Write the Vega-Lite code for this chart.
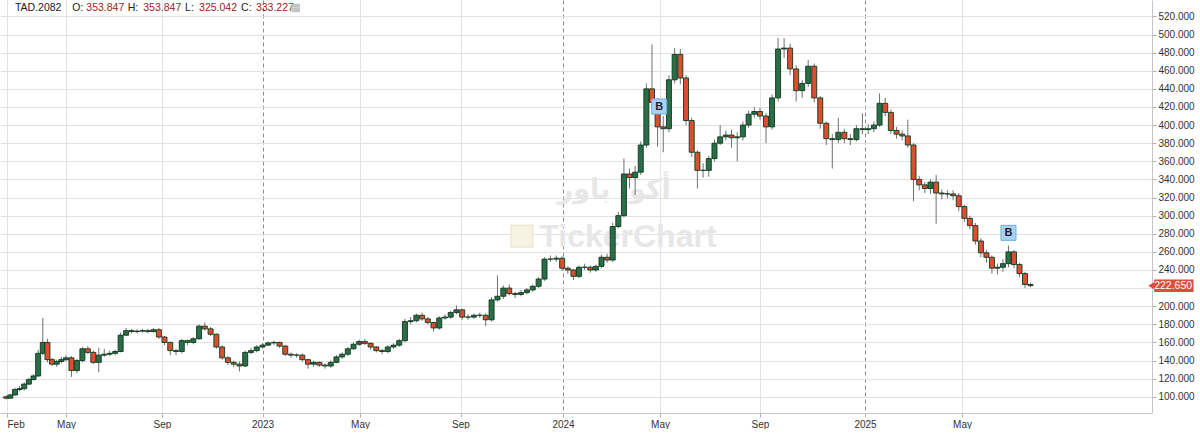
{
  "$schema": "https://vega.github.io/schema/vega-lite/v6.json",
  "width": 1152,
  "height": 413,
  "padding": 0,
  "autosize": {"type": "pad"},
  "background": "white",
  "config": {
    "view": {"stroke": null},
    "font": "Liberation Sans",
    "axis": {"labelFont": "Liberation Sans", "labelFontSize": 10, "labelColor": "#333333", "domainColor": "#c4c4c4", "tickColor": "#b0b0b0", "tickSize": 4, "gridColor": "#e2e2e2", "gridWidth": 1, "labelOverlap": false}
  },
  "datasets": {
    "ohlc": [
      {"d":"2022-01-30","o":100,"h":101.5,"l":97,"c":98.5},
      {"d":"2022-02-06","o":98.5,"h":103.5,"l":97.5,"c":102},
      {"d":"2022-02-13","o":102,"h":110,"l":101,"c":108},
      {"d":"2022-02-20","o":108,"h":112,"l":106,"c":109},
      {"d":"2022-02-27","o":109,"h":116,"l":107,"c":114},
      {"d":"2022-03-06","o":114,"h":121,"l":113,"c":119},
      {"d":"2022-03-13","o":119,"h":125,"l":118,"c":123},
      {"d":"2022-03-20","o":123,"h":152,"l":122,"c":148},
      {"d":"2022-03-27","o":148,"h":187,"l":146,"c":160},
      {"d":"2022-04-03","o":160,"h":164,"l":138,"c":141},
      {"d":"2022-04-10","o":141,"h":143,"l":134,"c":136},
      {"d":"2022-04-17","o":136,"h":141,"l":133,"c":139},
      {"d":"2022-04-24","o":139,"h":144,"l":137,"c":141},
      {"d":"2022-05-01","o":141,"h":146,"l":139,"c":143},
      {"d":"2022-05-08","o":143,"h":145,"l":122,"c":129},
      {"d":"2022-05-15","o":129,"h":142,"l":126,"c":140},
      {"d":"2022-05-22","o":140,"h":155,"l":138,"c":153},
      {"d":"2022-05-29","o":153,"h":156,"l":147,"c":149},
      {"d":"2022-06-05","o":149,"h":151,"l":136,"c":138},
      {"d":"2022-06-12","o":138,"h":154,"l":127,"c":146},
      {"d":"2022-06-19","o":146,"h":153,"l":144,"c":147},
      {"d":"2022-06-26","o":147,"h":151,"l":145,"c":148},
      {"d":"2022-07-03","o":148,"h":152,"l":146,"c":150},
      {"d":"2022-07-10","o":150,"h":171,"l":149,"c":168},
      {"d":"2022-07-17","o":168,"h":176,"l":167,"c":173},
      {"d":"2022-07-24","o":173,"h":175,"l":170,"c":172},
      {"d":"2022-07-31","o":172,"h":174.5,"l":170,"c":172.5},
      {"d":"2022-08-07","o":172.5,"h":175,"l":171,"c":173},
      {"d":"2022-08-14","o":173,"h":175,"l":170,"c":172},
      {"d":"2022-08-21","o":172,"h":176,"l":171,"c":174},
      {"d":"2022-08-28","o":174,"h":176,"l":164,"c":166},
      {"d":"2022-09-04","o":166,"h":167,"l":157,"c":160},
      {"d":"2022-09-11","o":160,"h":161,"l":146,"c":151},
      {"d":"2022-09-18","o":151,"h":153,"l":146,"c":150},
      {"d":"2022-09-25","o":150,"h":164,"l":148,"c":162},
      {"d":"2022-10-02","o":162,"h":163,"l":157,"c":160},
      {"d":"2022-10-09","o":160,"h":166,"l":158,"c":164},
      {"d":"2022-10-16","o":164,"h":180,"l":163,"c":178},
      {"d":"2022-10-23","o":178,"h":182,"l":173,"c":175},
      {"d":"2022-10-30","o":175,"h":177,"l":167,"c":169},
      {"d":"2022-11-06","o":169,"h":170,"l":153,"c":155},
      {"d":"2022-11-13","o":155,"h":157,"l":141,"c":143},
      {"d":"2022-11-20","o":143,"h":145,"l":135,"c":138},
      {"d":"2022-11-27","o":138,"h":140,"l":133,"c":136},
      {"d":"2022-12-04","o":136,"h":139,"l":128,"c":134},
      {"d":"2022-12-11","o":134,"h":151,"l":133,"c":149},
      {"d":"2022-12-18","o":149,"h":154,"l":147,"c":151},
      {"d":"2022-12-25","o":151,"h":157,"l":149,"c":155},
      {"d":"2023-01-01","o":155,"h":159,"l":153,"c":157},
      {"d":"2023-01-08","o":157,"h":161,"l":156,"c":159.5},
      {"d":"2023-01-15","o":159.5,"h":162,"l":157,"c":160},
      {"d":"2023-01-22","o":160,"h":161,"l":154,"c":156},
      {"d":"2023-01-29","o":156,"h":157,"l":145,"c":147},
      {"d":"2023-02-05","o":147,"h":149,"l":143,"c":146},
      {"d":"2023-02-12","o":146,"h":148,"l":143,"c":146},
      {"d":"2023-02-19","o":146,"h":148,"l":139,"c":141},
      {"d":"2023-02-26","o":141,"h":142,"l":131,"c":136},
      {"d":"2023-03-05","o":136,"h":140,"l":133,"c":138},
      {"d":"2023-03-12","o":138,"h":139,"l":133,"c":135},
      {"d":"2023-03-19","o":135,"h":137,"l":131,"c":134},
      {"d":"2023-03-26","o":134,"h":140,"l":132,"c":138},
      {"d":"2023-04-02","o":138,"h":146,"l":137,"c":144},
      {"d":"2023-04-09","o":144,"h":149,"l":142,"c":147},
      {"d":"2023-04-16","o":147,"h":155,"l":145,"c":153},
      {"d":"2023-04-23","o":153,"h":160,"l":152,"c":158},
      {"d":"2023-04-30","o":158,"h":163,"l":156,"c":161},
      {"d":"2023-05-07","o":161,"h":164,"l":157,"c":159},
      {"d":"2023-05-14","o":159,"h":160,"l":152,"c":155},
      {"d":"2023-05-21","o":155,"h":156,"l":149,"c":151},
      {"d":"2023-05-28","o":151,"h":153,"l":147,"c":150},
      {"d":"2023-06-04","o":150,"h":157,"l":148,"c":155},
      {"d":"2023-06-11","o":155,"h":159,"l":153,"c":157},
      {"d":"2023-06-18","o":157,"h":164,"l":155,"c":162},
      {"d":"2023-06-25","o":162,"h":186,"l":160,"c":183},
      {"d":"2023-07-02","o":183,"h":188,"l":180,"c":184},
      {"d":"2023-07-09","o":184,"h":192,"l":182,"c":190},
      {"d":"2023-07-16","o":190,"h":193,"l":184,"c":186},
      {"d":"2023-07-23","o":186,"h":188,"l":180,"c":182},
      {"d":"2023-07-30","o":182,"h":183,"l":172,"c":176},
      {"d":"2023-08-06","o":176,"h":189,"l":174,"c":187},
      {"d":"2023-08-13","o":187,"h":191,"l":185,"c":188},
      {"d":"2023-08-20","o":188,"h":195,"l":186,"c":193},
      {"d":"2023-08-27","o":193,"h":201,"l":191,"c":196},
      {"d":"2023-09-03","o":196,"h":197,"l":185,"c":188},
      {"d":"2023-09-10","o":188,"h":191,"l":185,"c":188},
      {"d":"2023-09-17","o":188,"h":192,"l":186,"c":190},
      {"d":"2023-09-24","o":190,"h":193,"l":187,"c":190},
      {"d":"2023-10-01","o":190,"h":192,"l":178,"c":185},
      {"d":"2023-10-08","o":185,"h":210,"l":183,"c":207},
      {"d":"2023-10-15","o":207,"h":234,"l":205,"c":211},
      {"d":"2023-10-22","o":211,"h":223,"l":208,"c":220},
      {"d":"2023-10-29","o":220,"h":224,"l":212,"c":214},
      {"d":"2023-11-05","o":214,"h":216,"l":209,"c":213},
      {"d":"2023-11-12","o":213,"h":218,"l":211,"c":215},
      {"d":"2023-11-19","o":215,"h":220,"l":213,"c":218},
      {"d":"2023-11-26","o":218,"h":224,"l":216,"c":222},
      {"d":"2023-12-03","o":222,"h":232,"l":220,"c":230},
      {"d":"2023-12-10","o":230,"h":254,"l":228,"c":252},
      {"d":"2023-12-17","o":252,"h":256,"l":249,"c":252},
      {"d":"2023-12-24","o":252,"h":256,"l":249,"c":253},
      {"d":"2023-12-31","o":253,"h":255,"l":239,"c":242},
      {"d":"2024-01-07","o":242,"h":244,"l":236,"c":240},
      {"d":"2024-01-14","o":240,"h":241,"l":229,"c":233},
      {"d":"2024-01-21","o":233,"h":245,"l":231,"c":243},
      {"d":"2024-01-28","o":243,"h":247,"l":240,"c":243},
      {"d":"2024-02-04","o":243,"h":245,"l":237,"c":240},
      {"d":"2024-02-11","o":240,"h":246,"l":238,"c":244},
      {"d":"2024-02-18","o":244,"h":257,"l":242,"c":254},
      {"d":"2024-02-25","o":254,"h":258,"l":248,"c":251},
      {"d":"2024-03-03","o":251,"h":292,"l":249,"c":288},
      {"d":"2024-03-10","o":288,"h":304,"l":286,"c":300},
      {"d":"2024-03-17","o":300,"h":363,"l":298,"c":346},
      {"d":"2024-03-24","o":346,"h":352,"l":330,"c":342},
      {"d":"2024-03-31","o":342,"h":355,"l":323,"c":348},
      {"d":"2024-04-07","o":348,"h":382,"l":345,"c":378},
      {"d":"2024-04-14","o":378,"h":446,"l":375,"c":440},
      {"d":"2024-04-21","o":440,"h":489,"l":418,"c":425},
      {"d":"2024-04-28","o":425,"h":430,"l":376,"c":398},
      {"d":"2024-05-05","o":398,"h":410,"l":370,"c":396},
      {"d":"2024-05-12","o":396,"h":455,"l":392,"c":450},
      {"d":"2024-05-19","o":450,"h":485,"l":446,"c":478},
      {"d":"2024-05-26","o":478,"h":484,"l":445,"c":452},
      {"d":"2024-06-02","o":452,"h":455,"l":400,"c":405},
      {"d":"2024-06-09","o":405,"h":408,"l":365,"c":370},
      {"d":"2024-06-16","o":370,"h":372,"l":330,"c":350},
      {"d":"2024-06-23","o":350,"h":358,"l":342,"c":350},
      {"d":"2024-06-30","o":350,"h":366,"l":343,"c":363},
      {"d":"2024-07-07","o":363,"h":384,"l":360,"c":380},
      {"d":"2024-07-14","o":380,"h":400,"l":378,"c":387},
      {"d":"2024-07-21","o":387,"h":394,"l":383,"c":389},
      {"d":"2024-07-28","o":389,"h":395,"l":375,"c":386},
      {"d":"2024-08-04","o":386,"h":392,"l":360,"c":387},
      {"d":"2024-08-11","o":387,"h":404,"l":383,"c":400},
      {"d":"2024-08-18","o":400,"h":416,"l":397,"c":412},
      {"d":"2024-08-25","o":412,"h":420,"l":408,"c":415},
      {"d":"2024-09-01","o":415,"h":419,"l":406,"c":410},
      {"d":"2024-09-08","o":410,"h":413,"l":380,"c":398},
      {"d":"2024-09-15","o":398,"h":434,"l":395,"c":430},
      {"d":"2024-09-22","o":430,"h":496,"l":426,"c":484},
      {"d":"2024-09-29","o":484,"h":496,"l":474,"c":485},
      {"d":"2024-10-06","o":485,"h":490,"l":455,"c":462},
      {"d":"2024-10-13","o":462,"h":466,"l":426,"c":438},
      {"d":"2024-10-20","o":438,"h":450,"l":430,"c":446},
      {"d":"2024-10-27","o":446,"h":472,"l":442,"c":465},
      {"d":"2024-11-03","o":465,"h":468,"l":425,"c":430},
      {"d":"2024-11-10","o":430,"h":432,"l":396,"c":402},
      {"d":"2024-11-17","o":402,"h":404,"l":378,"c":385},
      {"d":"2024-11-24","o":385,"h":390,"l":352,"c":384},
      {"d":"2024-12-01","o":384,"h":408,"l":380,"c":392},
      {"d":"2024-12-08","o":392,"h":396,"l":380,"c":385},
      {"d":"2024-12-15","o":385,"h":390,"l":378,"c":384},
      {"d":"2024-12-22","o":384,"h":400,"l":382,"c":396},
      {"d":"2024-12-29","o":396,"h":413,"l":390,"c":395},
      {"d":"2025-01-05","o":395,"h":401,"l":390,"c":396},
      {"d":"2025-01-12","o":396,"h":404,"l":392,"c":400},
      {"d":"2025-01-19","o":400,"h":435,"l":398,"c":424},
      {"d":"2025-01-26","o":424,"h":430,"l":410,"c":414},
      {"d":"2025-02-02","o":414,"h":417,"l":390,"c":394},
      {"d":"2025-02-09","o":394,"h":398,"l":385,"c":390},
      {"d":"2025-02-16","o":390,"h":394,"l":383,"c":388},
      {"d":"2025-02-23","o":388,"h":406,"l":375,"c":378},
      {"d":"2025-03-02","o":378,"h":380,"l":316,"c":340},
      {"d":"2025-03-09","o":340,"h":344,"l":328,"c":334},
      {"d":"2025-03-16","o":334,"h":337,"l":325,"c":330},
      {"d":"2025-03-23","o":330,"h":340,"l":324,"c":337},
      {"d":"2025-03-30","o":337,"h":345,"l":291,"c":325},
      {"d":"2025-04-06","o":325,"h":329,"l":318,"c":324},
      {"d":"2025-04-13","o":324,"h":328,"l":319,"c":324},
      {"d":"2025-04-20","o":324,"h":328,"l":317,"c":322},
      {"d":"2025-04-27","o":322,"h":325,"l":305,"c":310},
      {"d":"2025-05-04","o":310,"h":312,"l":293,"c":297},
      {"d":"2025-05-11","o":297,"h":300,"l":285,"c":289},
      {"d":"2025-05-18","o":289,"h":292,"l":268,"c":272},
      {"d":"2025-05-25","o":272,"h":275,"l":254,"c":259},
      {"d":"2025-06-01","o":259,"h":262,"l":248,"c":254},
      {"d":"2025-06-08","o":254,"h":256,"l":236,"c":242},
      {"d":"2025-06-15","o":242,"h":247,"l":235,"c":243},
      {"d":"2025-06-22","o":243,"h":252,"l":238,"c":247},
      {"d":"2025-06-29","o":247,"h":267,"l":243,"c":260},
      {"d":"2025-07-06","o":260,"h":262,"l":242,"c":246},
      {"d":"2025-07-13","o":246,"h":248,"l":232,"c":236},
      {"d":"2025-07-20","o":236,"h":238,"l":220,"c":224},
      {"d":"2025-07-27","o":224,"h":226,"l":221,"c":222.65}
    ],
    "signals": [
      {"d":"2024-04-30","price":420.5,"sig":"B"},
      {"d":"2025-06-29","price":281,"sig":"B"}
    ],
    "last": [{"d":"2025-07-27","close":222.65}],
    "quote": [{"d":"2025-07-27","sym":"TAD.2082","o":353.847,"h":353.847,"l":325.042,"c":333.227,"name":"أكوا باور","brand":"TickerChart"}]
  },
  "data": {"name": "ohlc", "format": {"parse": {"d": "date"}}},
  "encoding": {
    "x": {
      "field": "d", "type": "quantitative", "title": null,
      "scale": {
        "nice": false, "zero": false,
        "domain": [1642723200000, 1643673600000, 1651363200000, 1661990400000, 1672531200000, 1682899200000, 1693526400000, 1704067200000, 1714521600000, 1725148800000, 1735689600000, 1746057600000, 1766361600000],
        "range": [0, 7, 66, 162, 262.5, 360, 460.5, 563, 660, 760, 865, 962, 1152]
      },
      "axis": {
        "title": null,
        "values": [1643673600000, 1651363200000, 1661990400000, 1672531200000, 1682899200000, 1693526400000, 1704067200000, 1714521600000, 1725148800000, 1735689600000, 1746057600000],
        "tickCount": 40,
        "labelExpr": "utcmonth(datum.value) == 0 ? utcFormat(datum.value, '%Y') : utcFormat(datum.value, '%b')",
        "labelFlush": 10,
        "labelPadding": 2,
        "labelOverlap": false,
        "grid": true,
        "gridColor": {"condition": {"test": "utcmonth(datum.value) == 0", "value": "#8c8c8c"}, "value": "#e2e2e2"},
        "gridDash": {"condition": {"test": "utcmonth(datum.value) == 0", "value": [4, 3]}, "value": []}
      }
    }
  },
  "layer": [
    {
      "data": {"name": "quote", "format": {"parse": {"d": "date"}}},
      "mark": {"type": "text", "fontSize": 27, "fontWeight": "bold", "font": "DejaVu Sans", "color": "#e7e7e7", "align": "center", "baseline": "middle"},
      "encoding": {
        "x": {"datum": 1709596800000, "type": "quantitative"},
        "y": {"datum": 328, "type": "quantitative"},
        "text": {"field": "name", "type": "nominal"}
      }
    },
    {
      "data": {"name": "quote", "format": {"parse": {"d": "date"}}},
      "mark": {"type": "point", "shape": "square", "size": 480, "filled": true, "fill": "#f7f3e2", "stroke": "#e8e2c8", "strokeWidth": 1, "opacity": 1},
      "encoding": {
        "x": {"datum": 1699833600000, "type": "quantitative"},
        "y": {"datum": 277.4, "type": "quantitative"}
      }
    },
    {
      "data": {"name": "quote", "format": {"parse": {"d": "date"}}},
      "mark": {"type": "text", "fontSize": 32, "fontWeight": "bold", "color": "#e7e7e7", "align": "center", "baseline": "middle"},
      "encoding": {
        "x": {"datum": 1711065600000, "type": "quantitative"},
        "y": {"datum": 276, "type": "quantitative"},
        "text": {"field": "brand", "type": "nominal"}
      }
    },
    {
      "mark": {"type": "rule", "color": "#707070", "strokeWidth": 1},
      "encoding": {
        "y": {"field": "l", "type": "quantitative", "title": null,
          "scale": {"domain": [82.1, 538.1], "nice": false, "zero": false},
          "axis": {"orient": "right", "title": null, "values": [100,120,140,160,180,200,220,240,260,280,300,320,340,360,380,400,420,440,460,480,500,520], "tickCount": 40, "labelExpr": "datum.value == 220 ? '' : format(datum.value, '.3f')", "labelOverlap": false, "labelPadding": 2, "grid": true}
        },
        "y2": {"field": "h"}
      }
    },
    {
      "mark": {"type": "bar", "width": 5, "stroke": "#0f3721", "strokeWidth": 0.9},
      "encoding": {
        "y": {"field": "o", "type": "quantitative", "title": null},
        "y2": {"field": "c"},
        "fill": {"condition": {"test": "datum.c >= datum.o", "value": "#2a6e46"}, "value": "#dc4f2d"}
      }
    },
    {
      "data": {"name": "signals", "format": {"parse": {"d": "date"}}},
      "mark": {"type": "point", "shape": "square", "size": 225, "filled": true, "fill": "#a9d3f6", "stroke": "#6aaee6", "strokeWidth": 1, "opacity": 1},
      "encoding": {"y": {"field": "price", "type": "quantitative"}}
    },
    {
      "data": {"name": "signals", "format": {"parse": {"d": "date"}}},
      "mark": {"type": "text", "fontSize": 11, "fontWeight": "bold", "color": "#222222", "align": "center", "baseline": "middle", "dy": 0.5},
      "encoding": {"y": {"field": "price", "type": "quantitative"}, "text": {"field": "sig"}}
    },
    {
      "data": {"name": "last", "format": {"parse": {"d": "date"}}},
      "mark": {"type": "rect", "color": "#dc4e3c"},
      "encoding": {
        "x": {"datum": 1767139200000, "type": "quantitative"},
        "x2": {"datum": 1771459200000},
        "y": {"datum": 229.5, "type": "quantitative"},
        "y2": {"datum": 215.8}
      }
    },
    {
      "data": {"name": "last", "format": {"parse": {"d": "date"}}},
      "mark": {"type": "point", "shape": "triangle-left", "size": 70, "filled": true, "color": "#dc4e3c", "opacity": 1},
      "encoding": {
        "x": {"datum": 1766880000000, "type": "quantitative"},
        "y": {"field": "close", "type": "quantitative"}
      }
    },
    {
      "data": {"name": "last", "format": {"parse": {"d": "date"}}},
      "mark": {"type": "text", "fontSize": 10.5, "color": "white", "align": "left", "baseline": "middle"},
      "encoding": {
        "x": {"datum": 1767139200000, "type": "quantitative"},
        "y": {"field": "close", "type": "quantitative"},
        "text": {"field": "close", "format": ".3f"}
      }
    },
    {
      "data": {"name": "quote", "format": {"parse": {"d": "date"}}},
      "mark": {"type": "text", "fontSize": 10.5, "color": "#222222", "align": "left", "baseline": "middle"},
      "encoding": {"x": {"datum": 1644710400000, "type": "quantitative"}, "y": {"datum": 529.3, "type": "quantitative"}, "text": {"field": "sym", "type": "nominal"}}
    },
    {
      "data": {"name": "quote", "format": {"parse": {"d": "date"}}},
      "mark": {"type": "text", "fontSize": 10.5, "color": "#222222", "align": "left", "baseline": "middle", "text": "O:"},
      "encoding": {"x": {"datum": 1652054400000, "type": "quantitative"}, "y": {"datum": 529.3, "type": "quantitative"}}
    },
    {
      "data": {"name": "quote", "format": {"parse": {"d": "date"}}},
      "mark": {"type": "text", "fontSize": 10.5, "color": "#9b1c1c", "align": "left", "baseline": "middle"},
      "encoding": {"x": {"datum": 1653609600000, "type": "quantitative"}, "y": {"datum": 529.3, "type": "quantitative"}, "text": {"field": "o", "type": "quantitative", "format": ".3f"}}
    },
    {
      "data": {"name": "quote", "format": {"parse": {"d": "date"}}},
      "mark": {"type": "text", "fontSize": 10.5, "color": "#222222", "align": "left", "baseline": "middle", "text": "H:"},
      "encoding": {"x": {"datum": 1658188800000, "type": "quantitative"}, "y": {"datum": 529.3, "type": "quantitative"}}
    },
    {
      "data": {"name": "quote", "format": {"parse": {"d": "date"}}},
      "mark": {"type": "text", "fontSize": 10.5, "color": "#9b1c1c", "align": "left", "baseline": "middle"},
      "encoding": {"x": {"datum": 1659916800000, "type": "quantitative"}, "y": {"datum": 529.3, "type": "quantitative"}, "text": {"field": "h", "type": "quantitative", "format": ".3f"}}
    },
    {
      "data": {"name": "quote", "format": {"parse": {"d": "date"}}},
      "mark": {"type": "text", "fontSize": 10.5, "color": "#222222", "align": "left", "baseline": "middle", "text": "L:"},
      "encoding": {"x": {"datum": 1664409600000, "type": "quantitative"}, "y": {"datum": 529.3, "type": "quantitative"}}
    },
    {
      "data": {"name": "quote", "format": {"parse": {"d": "date"}}},
      "mark": {"type": "text", "fontSize": 10.5, "color": "#9b1c1c", "align": "left", "baseline": "middle"},
      "encoding": {"x": {"datum": 1665878400000, "type": "quantitative"}, "y": {"datum": 529.3, "type": "quantitative"}, "text": {"field": "l", "type": "quantitative", "format": ".3f"}}
    },
    {
      "data": {"name": "quote", "format": {"parse": {"d": "date"}}},
      "mark": {"type": "text", "fontSize": 10.5, "color": "#222222", "align": "left", "baseline": "middle", "text": "C:"},
      "encoding": {"x": {"datum": 1670284800000, "type": "quantitative"}, "y": {"datum": 529.3, "type": "quantitative"}}
    },
    {
      "data": {"name": "quote", "format": {"parse": {"d": "date"}}},
      "mark": {"type": "text", "fontSize": 10.5, "color": "#9b1c1c", "align": "left", "baseline": "middle"},
      "encoding": {"x": {"datum": 1671840000000, "type": "quantitative"}, "y": {"datum": 529.3, "type": "quantitative"}, "text": {"field": "c", "type": "quantitative", "format": ".3f"}}
    },
    {
      "data": {"name": "quote", "format": {"parse": {"d": "date"}}},
      "mark": {"type": "point", "shape": "square", "size": 70, "filled": true, "color": "#c4c4c4", "opacity": 1},
      "encoding": {"x": {"datum": 1676073600000, "type": "quantitative"}, "y": {"datum": 529.3, "type": "quantitative"}}
    },
    {
      "data": {"name": "quote", "format": {"parse": {"d": "date"}}},
      "mark": {"type": "text", "fontSize": 8, "color": "white", "align": "center", "baseline": "middle", "text": "···"},
      "encoding": {"x": {"datum": 1676073600000, "type": "quantitative"}, "y": {"datum": 529.3, "type": "quantitative"}}
    }
  ]
}
